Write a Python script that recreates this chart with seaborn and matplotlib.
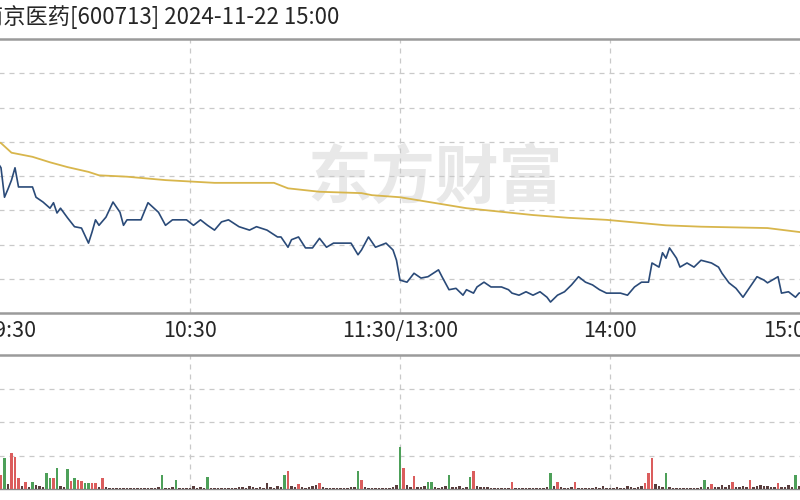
import matplotlib
matplotlib.use("Agg")
import matplotlib.pyplot as plt
import matplotlib.transforms as mtransforms
import numpy as np
import pandas as pd
import seaborn as sns

# ---------------- data ----------------
title_text = "南京医药[600713] 2024-11-22 15:00"
watermark_text = "东方财富"

tick_minutes = [0, 60, 120, 180, 240]
tick_labels = ["9:30", "10:30", "11:30/13:00", "14:00", "15:00"]

# price line: trading minute since 9:30, change vs previous close (%)
price_minutes = [5, 6, 7, 8, 9, 10, 11, 15, 16, 18, 20, 21, 22, 23, 25, 27, 29, 31, 32, 33,
                 34, 36, 38, 40, 41, 42, 46, 48, 51, 53, 55, 59, 61, 63, 65, 67, 69, 71, 74, 77,
                 79, 82, 85, 86, 88, 89, 91, 93, 95, 97, 99, 101, 106, 108, 109, 111, 113, 116, 118, 119,
                 120, 122, 124, 126, 128, 131, 132, 134, 136, 138, 139, 141, 142, 144, 146, 149, 151, 152, 154, 156,
                 158, 160, 162, 163, 165, 167, 169, 171, 173, 175, 177, 179, 183, 185, 187, 189, 191, 192, 194, 195,
                 196, 197, 199, 200, 202, 204, 206, 209, 211, 212, 214, 216, 218, 220, 222, 224, 225, 228, 229, 231,
                 233, 234, 236]
price_pct = [0.20, 0.12, -0.31, -0.19, -0.06, 0.12, -0.16, -0.16, -0.31, -0.38, -0.47, -0.39, -0.54, -0.47, -0.61, -0.74, -0.76, -0.98, -0.82, -0.64,
             -0.72, -0.60, -0.38, -0.53, -0.72, -0.64, -0.64, -0.39, -0.53, -0.72, -0.64, -0.64, -0.72, -0.64, -0.72, -0.79, -0.67, -0.64, -0.74, -0.79,
             -0.74, -0.79, -0.89, -0.89, -1.04, -0.93, -0.89, -1.05, -1.05, -0.91, -1.04, -0.98, -0.98, -1.15, -1.08, -0.89, -1.04, -0.98, -1.08, -1.23,
             -1.52, -1.55, -1.42, -1.49, -1.47, -1.37, -1.47, -1.66, -1.64, -1.74, -1.66, -1.71, -1.62, -1.55, -1.62, -1.62, -1.66, -1.71, -1.74, -1.69,
             -1.74, -1.69, -1.77, -1.84, -1.74, -1.69, -1.59, -1.47, -1.55, -1.59, -1.66, -1.71, -1.71, -1.74, -1.62, -1.55, -1.55, -1.27, -1.33, -1.12,
             -1.20, -1.05, -1.20, -1.33, -1.27, -1.33, -1.23, -1.27, -1.33, -1.42, -1.56, -1.64, -1.77, -1.62, -1.47, -1.52, -1.56, -1.47, -1.71, -1.69,
             -1.77, -1.71, -1.69]

# average price line (%)
avg_minutes = [5, 6, 9, 15, 20, 25, 31, 34, 42, 53, 67, 84, 88, 97, 109, 112, 120, 139, 158, 168,
               179, 196, 206, 225, 236]
avg_pct = [0.50, 0.48, 0.34, 0.28, 0.20, 0.13, 0.06, 0.01, -0.01, -0.06, -0.10, -0.10, -0.18, -0.23, -0.25, -0.28, -0.31, -0.47, -0.57, -0.61,
           -0.64, -0.72, -0.74, -0.76, -0.83]

# volume per minute (lots), minutes 0..240
volume = [1500, 620, 480, 510, 330, 450, 420, 930, 150, 1080,
          960, 330, 90, 210, 60, 210, 120, 90, 60, 480,
          330, 330, 630, 90, 60, 600, 240, 330, 270, 240,
          180, 180, 180, 180, 60, 330, 60, 30, 30, 30,
          30, 30, 30, 30, 30, 30, 30, 30, 30, 30,
          30, 60, 420, 30, 30, 60, 270, 30, 30, 30,
          30, 90, 30, 60, 30, 360, 30, 30, 30, 30,
          30, 30, 30, 30, 60, 60, 30, 90, 60, 30,
          60, 30, 180, 60, 30, 90, 60, 420, 540, 90,
          60, 150, 60, 30, 60, 90, 120, 180, 60, 30,
          30, 30, 30, 30, 30, 30, 60, 60, 540, 270,
          60, 30, 30, 30, 30, 30, 30, 30, 60, 120,
          1260, 630, 120, 60, 390, 60, 60, 90, 210, 210,
          60, 30, 60, 90, 420, 60, 60, 90, 30, 60,
          360, 540, 90, 60, 60, 60, 30, 30, 30, 30,
          30, 30, 210, 30, 30, 30, 30, 30, 30, 30,
          30, 30, 60, 480, 90, 210, 60, 30, 30, 60,
          210, 30, 30, 30, 30, 30, 60, 30, 90, 30,
          30, 30, 60, 30, 30, 90, 60, 30, 60, 90,
          180, 480, 930, 150, 90, 60, 480, 60, 30, 30,
          30, 30, 30, 30, 30, 30, 60, 270, 60, 150,
          60, 60, 120, 60, 120, 210, 60, 60, 90, 60,
          270, 60, 90, 120, 90, 90, 60, 60, 180, 60,
          60, 120, 60, 420, 90, 60, 60, 90, 60, 60,
          300]
vol_up_minutes = [6, 9, 10, 11, 13, 21, 26, 28, 29, 32, 33, 35, 88, 91, 97, 109, 121, 124, 141, 152,
                  165, 170, 190, 191, 192, 209, 215, 220, 228]
vol_down_minutes = [7, 15, 19, 20, 22, 25, 27, 30, 31, 52, 56, 65, 87, 108, 120, 128, 129, 134, 140, 163,
                    196, 207, 233]

# ---------------- style ----------------
sns.set_theme(style="white")
plt.rcParams["font.family"] = ["Noto Sans CJK SC", "DejaVu Sans"]

BLUE = "#2a4a78"
GOLD = "#d8b64c"
GRID = "#c9c9c9"
BORDER = "#9b9b9b"
TEXT = "#262626"
RED = "#f04848"
GREEN = "#3fae4f"
DARK = "#5e3838"

W, H = 800, 500
fig = plt.figure(figsize=(8, 5), dpi=100)
fig.patch.set_facecolor("white")

# panel geometry in pixels: 9:30 at x=-20, 15:00 at x=820
x0, x1 = -20, 820
ax = fig.add_axes([x0 / W, 1 - 313 / H, (x1 - x0) / W, (313 - 39) / H])
axv = fig.add_axes([x0 / W, 1 - 489 / H, (x1 - x0) / W, (489 - 355) / H])

# ---------------- price panel ----------------
ax.set_xlim(0, 240)
ax.set_ylim(-2.0, 2.0)
for lv in [-1.5, -1.0, -0.5, 0.0, 0.5, 1.0, 1.5]:
    ax.axhline(lv, color=GRID, lw=0.9, ls=(0, (4, 4)), zorder=1)
for m in [60, 120, 180]:
    ax.axvline(m, color=GRID, lw=0.9, ls=(0, (4, 4)), zorder=1)

ax.text(0.542, 0.49, watermark_text, transform=ax.transAxes, ha="center", va="center",
        fontsize=46, fontweight="bold", color="#e8e8e8", zorder=0.5)

sns.lineplot(x=avg_minutes, y=avg_pct, ax=ax, color=GOLD, linewidth=1.3, zorder=3)
sns.lineplot(x=price_minutes, y=price_pct, ax=ax, color=BLUE, linewidth=1.2, zorder=4)

ax.set_xticks(tick_minutes)
ax.set_xticklabels(tick_labels)
ax.set_yticks([])
ax.tick_params(axis="x", length=0, pad=5, labelsize=15.5, colors=TEXT)
labs = ax.get_xticklabels()
labs[0].set_horizontalalignment("left")
labs[0].set_transform(labs[0].get_transform() +
                      mtransforms.ScaledTranslation(14 / 100, 0, fig.dpi_scale_trans))
labs[-1].set_horizontalalignment("right")
labs[-1].set_transform(labs[-1].get_transform() +
                       mtransforms.ScaledTranslation(-3 / 100, 0, fig.dpi_scale_trans))
ax.set_xlabel("")
ax.set_ylabel("")
for side in ["left", "right"]:
    ax.spines[side].set_visible(False)
for side in ["top", "bottom"]:
    ax.spines[side].set_color(BORDER)
    ax.spines[side].set_linewidth(1.8)

# ---------------- volume panel ----------------
vdf = pd.DataFrame({"minute": np.arange(len(volume)), "volume": volume})
vdf["dir"] = "flat"
vdf.loc[vdf["minute"].isin(vol_up_minutes), "dir"] = "up"
vdf.loc[vdf["minute"].isin(vol_down_minutes), "dir"] = "down"

for lv in [1000, 2000, 3000]:
    axv.axhline(lv, color=GRID, lw=0.9, ls=(0, (4, 4)), zorder=1)
for m in [60, 120, 180]:
    axv.axvline(m, color=GRID, lw=0.9, ls=(0, (4, 4)), zorder=1)

sns.barplot(data=vdf, x="minute", y="volume", hue="dir",
            palette={"up": RED, "down": GREEN, "flat": DARK},
            native_scale=True, dodge=False, width=0.65, errorbar=None,
            legend=False, ax=axv, zorder=3, linewidth=0)
axv.set_xlim(0, 240)
axv.set_ylim(0, 4000)
axv.set_xticks([])
axv.set_yticks([])
axv.set_xlabel("")
axv.set_ylabel("")
for side in ["left", "right"]:
    axv.spines[side].set_visible(False)
axv.spines["top"].set_color(BORDER)
axv.spines["top"].set_linewidth(1.8)
axv.spines["bottom"].set_color("#8a8a8a")
axv.spines["bottom"].set_linewidth(1.0)

# ---------------- title ----------------
fig.text(-19 / W, 1 - 17 / H, title_text, ha="left", va="center",
         fontsize=16, color=TEXT)

fig.savefig("out.png", dpi=100, facecolor="white")
